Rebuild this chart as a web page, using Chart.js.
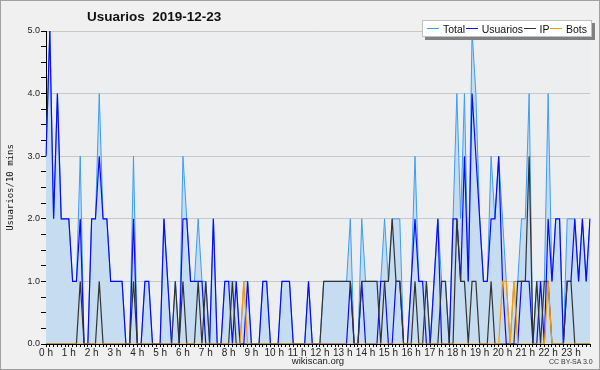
<!DOCTYPE html>
<html>
<head>
<meta charset="utf-8">
<script src="https://cdn.jsdelivr.net/npm/chart.js@4.4.0/dist/chart.umd.min.js"></script>
<style>
    body { margin: 0; }
    #wrap {
        position: relative;
        width: 600px;
        height: 370px;
        background: #f0f0f0;
        font-family: 'Liberation Sans', Arial, sans-serif;
        color: #111;
    }
    #frame {
        position: absolute; left: 0; top: 0;
        width: 600px; height: 370px;
        box-sizing: border-box;
        border: 1px solid #a0a0a0;
        pointer-events: none;
    }
    #title {
        position: absolute; left: 87px; top: 9px;
        font-weight: bold; font-size: 13.5px;
        white-space: pre;
    }
    #legend {
        position: absolute; left: 422px; top: 20px;
        width: 170px;
        height: 17px;
        box-sizing: border-box;
        background: #fff;
        border: 1px solid #c0c0c0;
        box-shadow: 3px 3px 0 #808080;
        display: flex; align-items: center; justify-content: space-between;
        padding: 0 4px 0 4px;
        font-size: 10.5px;
        white-space: nowrap;
    }
    .item { display: flex; align-items: center; }
    .swatch { width: 12px; height: 1px; margin-right: 4px; }
    #cc {
        position: absolute; left: 549px; top: 358px;
        font-size: 7px; color: #333;
    }
</style>
</head>
<body>
<div id="wrap">
    <canvas id="usersChart" width="600" height="370"></canvas>
    <div id="title">Usuarios  2019-12-23</div>
    <div id="legend"></div>
    <div id="cc">CC BY-SA 3.0</div>
    <div id="frame"></div>
</div>
<script>
// 10 minute slots over the day
const slots = Array.from({ length: 144 }, (_, i) => i);

const hourTicks = ["0 h", "1 h", "2 h", "3 h", "4 h", "5 h", "6 h", "7 h", "8 h", "9 h", "10 h", "11 h",
    "12 h", "13 h", "14 h", "15 h", "16 h", "17 h", "18 h", "19 h", "20 h", "21 h", "22 h", "23 h"];

// one row per hour, 6 values each
const total = [
    3, 5, 2, 4, 2, 2,
    2, 1, 1, 3, 0, 0,
    2, 2, 4, 2, 2, 1,
    1, 1, 1, 0, 0, 3,
    0, 0, 1, 1, 0, 0,
    0, 2, 1, 0, 1, 0,
    3, 2, 1, 1, 2, 1,
    1, 0, 2, 0, 0, 1,
    1, 1, 1, 0, 1, 1,
    0, 0, 0, 1, 1, 0,
    0, 0, 1, 1, 1, 0,
    0, 0, 0, 1, 0, 0,
    0, 1, 1, 1, 1, 1,
    1, 1, 2, 0, 0, 2,
    1, 1, 1, 1, 1, 2,
    1, 2, 2, 2, 0, 0,
    1, 3, 1, 1, 1, 0,
    1, 2, 1, 1, 0, 2,
    4, 2, 4, 1, 5, 4,
    2, 1, 1, 3, 2, 3,
    2, 1, 0, 1, 1, 2,
    2, 4, 0, 1, 1, 1,
    4, 1, 2, 2, 0, 2,
    2, 2, 1, 2, 1, 2
];

const usuarios = [
    3, 5, 2, 4, 2, 2,
    2, 1, 1, 2, 0, 0,
    2, 2, 3, 2, 2, 1,
    1, 1, 1, 0, 0, 2,
    0, 0, 1, 1, 0, 0,
    0, 2, 1, 0, 0, 0,
    2, 2, 1, 1, 1, 1,
    0, 0, 2, 0, 0, 1,
    1, 0, 1, 0, 0, 1,
    0, 0, 0, 1, 1, 0,
    0, 0, 1, 1, 1, 0,
    0, 0, 0, 1, 0, 0,
    0, 0, 0, 0, 0, 0,
    0, 0, 1, 0, 0, 1,
    0, 0, 0, 0, 1, 1,
    0, 0, 1, 1, 0, 0,
    1, 2, 1, 1, 0, 0,
    1, 2, 0, 0, 0, 2,
    2, 1, 3, 1, 4, 3,
    2, 1, 1, 2, 2, 3,
    1, 0, 0, 0, 0, 1,
    1, 1, 0, 0, 1, 0,
    2, 1, 2, 2, 0, 1,
    1, 2, 1, 2, 1, 2
];

const ip = [
    0, 0, 0, 0, 0, 0,
    0, 0, 0, 1, 0, 0,
    0, 0, 1, 0, 0, 0,
    0, 0, 0, 0, 0, 1,
    0, 0, 0, 0, 0, 0,
    0, 0, 0, 0, 1, 0,
    1, 0, 0, 0, 1, 0,
    1, 0, 0, 0, 0, 0,
    0, 1, 0, 0, 0, 0,
    0, 0, 0, 0, 0, 0,
    0, 0, 0, 0, 0, 0,
    0, 0, 0, 0, 0, 0,
    0, 1, 1, 1, 1, 1,
    1, 1, 1, 0, 0, 1,
    1, 1, 1, 1, 0, 1,
    1, 2, 1, 1, 0, 0,
    0, 1, 0, 0, 1, 0,
    0, 0, 1, 1, 0, 0,
    2, 1, 1, 0, 1, 1,
    0, 0, 0, 1, 0, 0,
    0, 0, 0, 0, 1, 1,
    1, 3, 0, 1, 0, 1,
    1, 0, 0, 0, 0, 1,
    1, 0, 0, 0, 0, 0
];

const bots = [
    0, 0, 0, 0, 0, 0,
    0, 0, 0, 0, 0, 0,
    0, 0, 0, 0, 0, 0,
    0, 0, 0, 0, 0, 0,
    0, 0, 0, 0, 0, 0,
    0, 0, 0, 0, 0, 0,
    0, 0, 0, 0, 0, 0,
    0, 0, 0, 0, 0, 0,
    0, 0, 0, 0, 1, 0,
    0, 0, 0, 0, 0, 0,
    0, 0, 0, 0, 0, 0,
    0, 0, 0, 0, 0, 0,
    0, 0, 0, 0, 0, 0,
    0, 0, 0, 0, 0, 0,
    0, 0, 0, 0, 0, 0,
    0, 0, 0, 0, 0, 0,
    0, 0, 0, 0, 0, 0,
    0, 0, 0, 0, 0, 0,
    0, 0, 0, 0, 0, 0,
    0, 0, 0, 0, 0, 0,
    1, 1, 0, 1, 0, 0,
    0, 0, 0, 0, 0, 0,
    1, 0, 0, 0, 0, 0,
    0, 0, 0, 0, 0, 0
];

const FONT = "'Liberation Sans', Arial, sans-serif";

// fills the page and the plot area before anything else is drawn
const plotBackground = {
    id: "plotBackground",
    beforeDraw(chart) {
        const { ctx, chartArea } = chart;
        ctx.save();
        ctx.fillStyle = "#f0f0f0";
        ctx.fillRect(0, 0, chart.width, chart.height);
        ctx.fillStyle = "#edeef0";
        ctx.fillRect(chartArea.left, chartArea.top,
            chartArea.right - chartArea.left, chartArea.bottom - chartArea.top);
        ctx.restore();
    }
};

function getChartConfig() {
    return {
        type: "line",
        data: {
            labels: slots,
            datasets: [
                { label: "Total", data: total, borderColor: "#3d9df5", borderWidth: 1,
                  backgroundColor: "#c6dcf0", fill: "origin", order: 4 },
                { label: "Usuarios", data: usuarios, borderColor: "#0a0aff", order: 3 },
                { label: "IP", data: ip, borderColor: "#333333", order: 2 },
                { label: "Bots", data: bots, borderColor: "#ff9900", order: 1 },
            ],
        },
        options: {
            responsive: false,
            animation: false,
            layout: { padding: { left: 0, right: 10, top: 31, bottom: 0 } },
            elements: {
                point: { radius: 0 },
                line: { borderWidth: 1.2, tension: 0 },
            },
            plugins: {
                legend: { display: false },
                tooltip: { enabled: false },
            },
            scales: {
                x: {
                    type: "category",
                    offset: false,
                    grid: { drawOnChartArea: false, tickLength: 3, tickColor: "#000" },
                    border: { color: "#000" },
                    ticks: {
                        autoSkip: false,
                        maxRotation: 0,
                        minRotation: 0,
                        padding: 0,
                        color: "#222",
                        font: { family: FONT, size: 10 },
                        callback: (v, i) => (i % 6 === 0 ? hourTicks[i / 6] : ""),
                    },
                    title: {
                        display: true,
                        text: "wikiscan.org",
                        color: "#222",
                        font: { family: FONT, size: 9.5 },
                        padding: { top: 0, bottom: 3 },
                    },
                    afterFit: (scale) => { scale.height = 26; },
                },
                y: {
                    min: 0,
                    max: 5,
                    grid: {
                        color: (c) => (Number.isInteger(c.tick.value) ? "#c8c8c8" : "rgba(0,0,0,0)"),
                        tickColor: "#000",
                        tickLength: 5,
                    },
                    border: { color: "#000" },
                    ticks: {
                        stepSize: 0.25,
                        autoSkip: false,
                        maxTicksLimit: 30,
                        padding: 1,
                        color: "#222",
                        font: { family: FONT, size: 9 },
                        callback: (v) => (Number.isInteger(v) ? v.toFixed(1) : ""),
                    },
                    title: {
                        display: true,
                        text: "Usuarios/10 mins",
                        color: "#111",
                        font: { family: "'DejaVu Sans Mono', monospace", size: 9 },
                        padding: { top: 5, bottom: 0 },
                    },
                    afterFit: (scale) => { scale.width = 46; },
                },
            },
        },
        plugins: [plotBackground],
    };
}

function buildLegend(datasets) {
    const legend = document.getElementById("legend");
    for (const ds of datasets) {
        const item = document.createElement("span");
        item.className = "item";
        const swatch = document.createElement("span");
        swatch.className = "swatch";
        swatch.style.background = ds.borderColor;
        const text = document.createElement("span");
        text.textContent = ds.label;
        item.appendChild(swatch);
        item.appendChild(text);
        legend.appendChild(item);
    }
}

const ctx = document.getElementById("usersChart").getContext("2d");
const usersChart = new Chart(ctx, getChartConfig());
buildLegend(usersChart.data.datasets);
</script>
</body>
</html>
